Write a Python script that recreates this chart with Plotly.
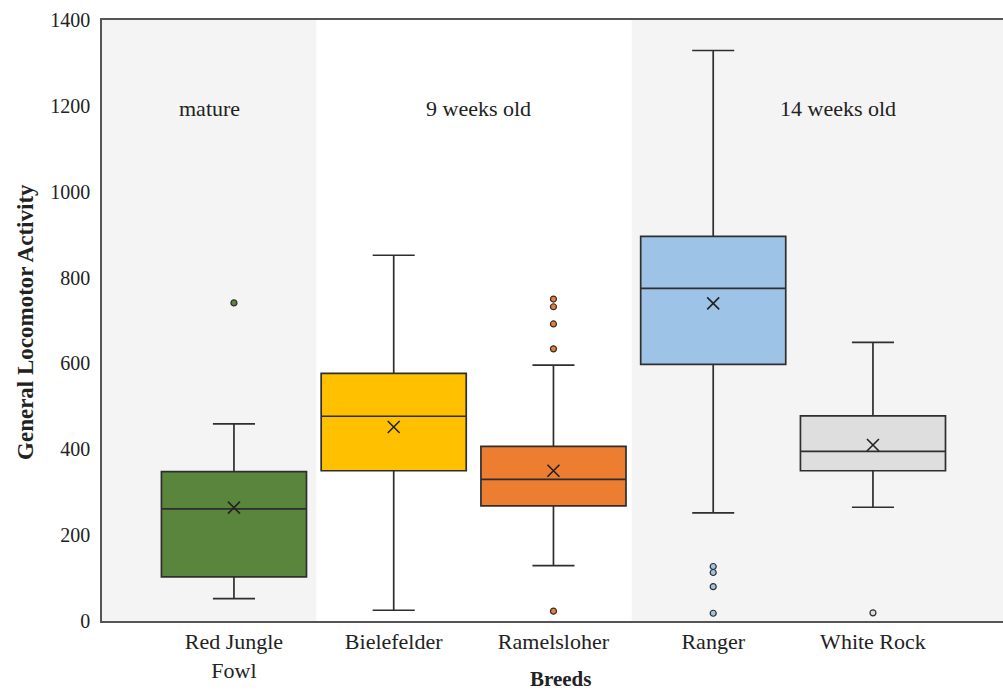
import plotly.graph_objects as go

# Breeds and their box-plot statistics (general locomotor activity)
breeds = ["Red Jungle<br>Fowl", "Bielefelder", "Ramelsloher", "Ranger", "White Rock"]
lower_whisker = [52, 25, 129, 252, 265]
q1 = [103, 350, 268, 598, 350]
median = [261, 477, 330, 775, 395]
q3 = [348, 577, 407, 896, 478]
upper_whisker = [459, 852, 596, 1329, 649]
mean = [264, 452, 350, 740, 410]
outliers = [
    [741],
    [],
    [750, 732, 692, 634, 23],
    [127, 113, 80, 18],
    [19],
]
fill_colors = ["#5a853d", "#ffc000", "#ed7d31", "#9dc3e6", "#dedede"]

# Age groups shown as background bands
age_groups = ["mature", "9 weeks old", "14 weeks old"]
group_spans = [(-0.83, 0.516), (0.516, 2.49), (2.49, 4.82)]
group_shaded = [True, False, True]
group_label_x = [-0.15, 1.53, 3.78]

FONT = "Liberation Serif"
EDGE = "#2e2e2e"

fig = go.Figure()

for i, name in enumerate(breeds):
    fig.add_trace(go.Box(
        x=[i], q1=[q1[i]], median=[median[i]], q3=[q3[i]],
        lowerfence=[lower_whisker[i]], upperfence=[upper_whisker[i]],
        width=0.908, whiskerwidth=0.29,
        fillcolor=fill_colors[i],
        line=dict(color=EDGE, width=1.7),
        boxpoints=False, hoverinfo="skip", showlegend=False,
    ))
    if outliers[i]:
        fig.add_trace(go.Scatter(
            x=[i] * len(outliers[i]), y=outliers[i], mode="markers",
            marker=dict(symbol="circle", size=6, color=fill_colors[i],
                        line=dict(color=EDGE, width=1.2)),
            showlegend=False, hoverinfo="skip",
        ))

# Mean markers
fig.add_trace(go.Scatter(
    x=list(range(len(breeds))), y=mean, mode="markers",
    marker=dict(symbol="x-thin", size=12, line=dict(color="#222222", width=1.6)),
    showlegend=False, hoverinfo="skip",
))

shapes = []
annotations = []
for label, (x0, x1), shaded, lx in zip(age_groups, group_spans, group_shaded, group_label_x):
    if shaded:
        shapes.append(dict(type="rect", xref="x", yref="paper", x0=x0, x1=x1, y0=0, y1=1,
                           fillcolor="#f4f4f4", line=dict(width=0), layer="below"))
    annotations.append(dict(text=label, x=lx, y=1194, xref="x", yref="y",
                            showarrow=False, font=dict(family=FONT, size=22, color="#222222")))

# Axis titles
annotations.append(dict(text="<b>Breeds</b>", x=0.509, y=-0.097, xref="paper", yref="paper",
                        showarrow=False, yanchor="middle",
                        font=dict(family=FONT, size=21, color="#222222")))
annotations.append(dict(text="<b>General Locomotor Activity</b>", x=-0.0855, y=0.4975,
                        xref="paper", yref="paper", showarrow=False, textangle=-90,
                        xanchor="center", yanchor="middle",
                        font=dict(family=FONT, size=23, color="#222222")))

fig.update_layout(
    width=1003, height=691,
    margin=dict(l=102, r=0, t=20, b=70),
    paper_bgcolor="white", plot_bgcolor="white",
    shapes=shapes, annotations=annotations,
    font=dict(family=FONT, size=20, color="#222222"),
    xaxis=dict(range=[-0.826, 4.814], tickmode="array", tickvals=list(range(len(breeds))),
               ticktext=breeds, showgrid=False, zeroline=False, showline=True,
               linecolor="#555555", linewidth=1.5, mirror=True, ticks="",
               tickfont=dict(family=FONT, size=22, color="#222222")),
    yaxis=dict(range=[0, 1400], tickvals=[0, 200, 400, 600, 800, 1000, 1200, 1400],
               showgrid=False, zeroline=False, showline=True, linecolor="#555555",
               linewidth=1.5, ticks="", ticklabelstandoff=6,
               tickfont=dict(family=FONT, size=20, color="#222222")),
)

fig.write_html("out.html")
